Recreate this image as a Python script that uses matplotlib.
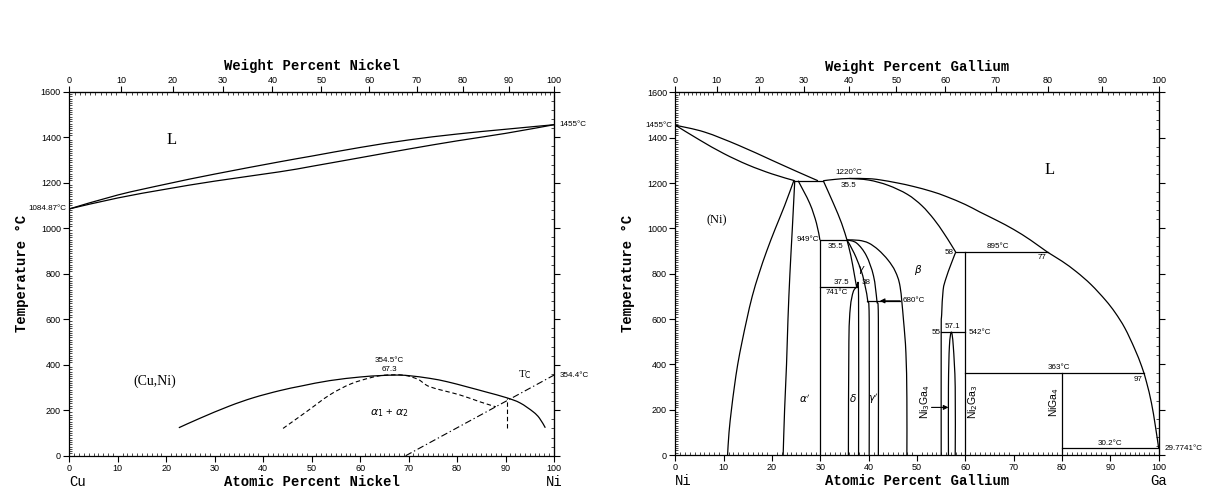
import numpy as np
import matplotlib
matplotlib.use("Agg")
import matplotlib.pyplot as plt
from matplotlib.ticker import MultipleLocator
from matplotlib.transforms import blended_transform_factory
from matplotlib.path import Path
from matplotlib.patches import PathPatch

# ---------------- Cu-Ni system ----------------
M_CU, M_NI, M_GA = 63.546, 58.693, 69.723

cuni_liq_x = [0, 10, 20, 30, 43.4, 50, 60, 70, 80, 90, 100]
cuni_liq_t = [1084.87, 1146, 1194, 1238, 1292, 1317, 1355, 1388, 1414, 1435, 1455]
cuni_sol_x = [0, 10, 20, 30, 43.4, 50, 60, 70, 80, 90, 100]
cuni_sol_t = [1084.87, 1133, 1172, 1207, 1248, 1272, 1310, 1348, 1384, 1417, 1455]

cuni_gap_x = [22.6, 27, 33, 38, 43.4, 48, 53.7, 60, 64, 67.3, 70, 74.4, 78, 82, 86, 90.2, 93, 95.7, 97, 98.2]
cuni_gap_t = [123, 165, 218, 255, 286, 307, 330, 346, 352, 354.5, 352, 340, 325, 303, 280, 255, 232, 193, 165, 123]

cuni_spin_x = [44.1, 48.9, 53.7, 58, 62, 65, 69, 72, 74.4, 80.6, 84.7, 88]
cuni_spin_t = [120, 193, 267, 315, 342, 354, 354, 335, 303, 267, 237, 215]
cuni_spin_v_x = [90.2, 90.2]
cuni_spin_v_t = [123, 252]

cuni_tc_x = [69.4, 100]
cuni_tc_t = [0, 354.4]

# ---------------- Ni-Ga system ----------------
niga_liq1_x = [0, 6, 13, 20, 25, 29.5]
niga_liq1_t = [1455, 1425, 1367, 1300, 1252, 1210]
niga_sol1_x = [0, 5, 10, 15, 20, 24.7]
niga_sol1_t = [1455, 1390, 1330, 1280, 1240, 1210]
niga_peri_x = [24.7, 30.6]
niga_peri_t = [1210, 1210]

niga_nisolvus_x = [24.5, 22.6, 20.7, 18.9, 17.3, 15.9, 14.8, 13.8, 12.9, 12.2, 11.6, 11.1, 10.8]
niga_nisolvus_t = [1210, 1100, 1000, 900, 800, 700, 600, 500, 400, 300, 200, 100, 0]

niga_a1_left_x = [24.7, 24.2, 23.7, 23.3, 23.0, 22.6, 22.3]
niga_a1_left_t = [1210, 1000, 800, 600, 400, 200, 0]
niga_a1_right_x = [25.4, 27.8, 29.2, 29.9]
niga_a1_right_t = [1210, 1110, 1022, 949]

niga_beta_liq_x = [30.6, 33, 36, 40, 42.3, 46, 49.2, 53, 56.1, 60, 63, 66.5, 70, 73.5, 77,
                   80, 83, 86, 89, 91, 93, 95, 96.5, 97.5, 98.5, 99.3, 100]
niga_beta_liq_t = [1210, 1216, 1220, 1219, 1214, 1200, 1185, 1163, 1140, 1105, 1072, 1035, 995, 948, 895,
                   855, 808, 752, 683, 628, 560, 470, 390, 320, 230, 130, 29.77]
niga_beta_sol_x = [36, 40, 44, 48, 51, 53.5, 55.5, 57, 58]
niga_beta_sol_t = [1220, 1213, 1190, 1150, 1100, 1040, 980, 930, 895]
niga_beta_high_x = [30.6, 32.7, 34.4, 35.5]
niga_beta_high_t = [1210, 1110, 1022, 949]

niga_a_x = [35.5, 36.3, 37.0, 37.5, 37.9, 37.9]
niga_a_t = [949, 880, 800, 741, 700, 0]
niga_delta_x = [37.5, 36.8, 36.2, 35.9, 35.8]
niga_delta_t = [741, 720, 650, 500, 0]
niga_b_x = [35.5, 37, 38.5, 39.3, 39.8, 40.1, 40.1]
niga_b_t = [949, 890, 810, 741, 680, 600, 0]
niga_c_x = [35.5, 37.5, 39.5, 41, 41.7, 42, 42]
niga_c_t = [949, 935, 880, 790, 680, 600, 0]
niga_d_x = [35.5, 38, 40, 42, 44, 45.5, 46.5, 47.2, 47.7, 47.9, 47.9]
niga_d_t = [949, 947, 935, 905, 860, 810, 742, 595, 450, 250, 0]

niga_beta_right_x = [58, 57, 56, 55.4, 55.1, 55, 55]
niga_beta_right_t = [895, 840, 780, 728, 620, 542, 0]
niga_ni3ga4_x = [56.5, 56.5, 56.7, 57.1, 57.5, 57.9, 57.9]
niga_ni3ga4_t = [0, 300, 480, 542, 480, 300, 0]

# isotherms: (x_start, x_end, temperature)
niga_isotherms = [(30, 35.5, 949), (30, 37.5, 741), (39.6, 46.5, 680),
                  (58, 77, 895), (55, 60, 542), (60, 96.9, 363), (80, 100, 30.2)]
# vertical lines: (x, t_bottom, t_top)
niga_verticals = [(30, 0, 949), (60, 0, 895), (80, 0, 363)]

LW = 0.9
SANS = "Liberation Sans"
SERIF = "Liberation Serif"
MONO = "Liberation Mono"
plt.rcParams["font.family"] = SANS

fig = plt.figure(figsize=(12.11, 5.04), dpi=100)
ax1 = fig.add_axes([0.0572, 0.0958, 0.4003, 0.7222])
ax2 = fig.add_axes([0.5577, 0.0972, 0.3991, 0.7196])


def at_to_wt(m_solute, m_solvent):
    def f(a):
        a = np.asarray(a, dtype=float)
        with np.errstate(all="ignore"):
            return 100 * a * m_solute / (a * m_solute + (100 - a) * m_solvent)
    return f


def wt_to_at(m_solute, m_solvent):
    def f(w):
        w = np.asarray(w, dtype=float)
        with np.errstate(all="ignore"):
            return 100 * (w / m_solute) / (w / m_solute + (100 - w) / m_solvent)
    return f


def curve(ax, xs, ts, lw=LW, ls="-"):
    """Smooth curve through the given points drawn as cubic Bezier segments."""
    k = 21.3  # degrees per at.% giving equal screen lengths, keeps tangents isotropic
    P = np.column_stack([np.asarray(xs, float), np.asarray(ts, float) / k])
    n = len(P)
    verts = [P[0]]
    codes = [Path.MOVETO]
    for i in range(n - 1):
        p0 = P[i - 1] if i > 0 else P[i]
        p1, p2 = P[i], P[i + 1]
        p3 = P[i + 2] if i + 2 < n else P[i + 1]
        verts += [p1 + (p2 - p0) / 6.0, p2 - (p3 - p1) / 6.0, p2]
        codes += [Path.CURVE4] * 3
    V = np.array(verts)
    V[:, 1] *= k
    ax.add_patch(PathPatch(Path(V, codes), fill=False, edgecolor="k",
                           lw=lw, linestyle=ls, capstyle="butt"))


def frame(ax, m_solute, m_solvent, top_label, bottom_label, left_el, right_el):
    ax.set_xlim(0, 100)
    ax.set_ylim(0, 1600)
    ax.set_xticks(range(0, 101, 10))
    ax.set_yticks(range(0, 1601, 200))
    ax.xaxis.set_minor_locator(MultipleLocator(1))
    ax.yaxis.set_minor_locator(MultipleLocator(10))
    ax.tick_params(which="major", direction="out", length=4, width=0.8,
                   labelsize=6.5, pad=2)
    ax.tick_params(which="minor", direction="in", length=2, width=0.5)
    for s in ax.spines.values():
        s.set_linewidth(0.9)
    ax.set_xlabel(bottom_label, fontfamily=MONO, fontweight="bold", fontsize=10)
    ax.xaxis.label.set_va("center")
    ax.xaxis.set_label_coords(0.5, -0.072)
    ax.set_ylabel("Temperature °C", fontfamily=MONO, fontweight="bold", fontsize=10)
    ax.yaxis.label.set_va("center")
    ax.yaxis.set_label_coords(-0.098, 0.5)

    top = ax.secondary_xaxis("top", functions=(at_to_wt(m_solute, m_solvent),
                                                wt_to_at(m_solute, m_solvent)))
    top.set_xticks(range(0, 101, 10))
    top.xaxis.set_minor_locator(MultipleLocator(1))
    top.tick_params(which="major", direction="out", length=4, width=0.8,
                    labelsize=6.5, pad=1)
    top.tick_params(which="minor", direction="in", length=2, width=0.5)
    ax.text(0.5, 1.071, top_label, transform=ax.transAxes, fontfamily=MONO,
            fontweight="bold", fontsize=10, ha="center", va="center")

    right = ax.secondary_yaxis("right")
    right.set_yticks(range(0, 1601, 200))
    right.set_yticklabels([])
    right.yaxis.set_minor_locator(MultipleLocator(40))
    right.tick_params(which="major", direction="out", length=4, width=0.8)
    right.tick_params(which="minor", direction="in", length=2, width=0.5)

    tr = blended_transform_factory(ax.transData, ax.transAxes)
    ax.text(0, -0.072, left_el, transform=tr, fontfamily=MONO, fontsize=10,
            ha="left", va="center")
    ax.text(100, -0.072, right_el, transform=tr, fontfamily=MONO, fontsize=10,
            ha="center", va="center")


def note(ax, x, y, s, ha="center", va="center", size=5.8, **kw):
    ax.text(x, y, s, ha=ha, va=va, fontsize=size, clip_on=False, **kw)


DASH = (0, (4, 2.5))
DASHDOT = (0, (6, 2.5, 1.2, 2.5))

# ----- left panel: Cu-Ni -----
frame(ax1, M_NI, M_CU, "Weight Percent Nickel", "Atomic Percent Nickel", "Cu", "Ni")
curve(ax1, cuni_liq_x, cuni_liq_t)
curve(ax1, cuni_sol_x, cuni_sol_t)
curve(ax1, cuni_gap_x, cuni_gap_t)
curve(ax1, cuni_spin_x, cuni_spin_t, lw=0.8, ls=DASH)
ax1.plot(cuni_spin_v_x, cuni_spin_v_t, color="k", lw=0.8, ls=DASH)
ax1.plot(cuni_tc_x, cuni_tc_t, color="k", lw=0.8, ls=DASHDOT)

note(ax1, -0.6, cuni_liq_t[0], "1084.87°C", ha="right")
note(ax1, 101.2, cuni_liq_t[-1], "1455°C", ha="left")
note(ax1, 101.2, cuni_tc_t[-1], "354.4°C", ha="left")
note(ax1, 66.1, 420, "354.5°C")
note(ax1, 66.1, 381, "67.3")
ax1.text(21.2, 1388, "L", fontfamily=SERIF, fontsize=12, ha="center", va="center")
ax1.text(17.7, 328, "(Cu,Ni)", fontfamily=SERIF, fontsize=10, ha="center", va="center")
ax1.text(66.1, 186, r"$\alpha_1$ + $\alpha_2$", fontsize=8, ha="center", va="center")
ax1.text(94, 355, r"T$_\mathrm{C}$", fontfamily=SERIF, fontsize=8, ha="center", va="center")

# ----- right panel: Ni-Ga -----
frame(ax2, M_GA, M_NI, "Weight Percent Gallium", "Atomic Percent Gallium", "Ni", "Ga")
for xs, ts in [(niga_liq1_x, niga_liq1_t), (niga_sol1_x, niga_sol1_t),
               (niga_nisolvus_x, niga_nisolvus_t),
               (niga_a1_left_x, niga_a1_left_t), (niga_a1_right_x, niga_a1_right_t),
               (niga_beta_liq_x, niga_beta_liq_t), (niga_beta_sol_x, niga_beta_sol_t),
               (niga_beta_high_x, niga_beta_high_t), (niga_a_x, niga_a_t),
               (niga_delta_x, niga_delta_t), (niga_b_x, niga_b_t),
               (niga_c_x, niga_c_t), (niga_d_x, niga_d_t),
               (niga_beta_right_x, niga_beta_right_t), (niga_ni3ga4_x, niga_ni3ga4_t)]:
    curve(ax2, xs, ts)
ax2.plot(niga_peri_x, niga_peri_t, color="k", lw=LW)
for x0, x1, t in niga_isotherms:
    ax2.plot([x0, x1], [t, t], color="k", lw=LW)
for x, t0, t1 in niga_verticals:
    ax2.plot([x, x], [t0, t1], color="k", lw=LW)

arrow = dict(arrowstyle="-|>", color="k", lw=0.8, mutation_scale=7, shrinkA=0, shrinkB=0)
ax2.annotate("", xy=(42.3, 680), xytext=(46.5, 680), arrowprops=arrow)
ax2.annotate("", xy=(56.5, 210), xytext=(53.0, 210), arrowprops=arrow)

note(ax2, -0.6, 1455, "1455°C", ha="right")
note(ax2, 101.2, 29.77, "29.7741°C", ha="left")
note(ax2, 35.8, 1245, "1220°C")
note(ax2, 35.8, 1187, "35.5")
note(ax2, 29.7, 949, "949°C", ha="right")
note(ax2, 33.2, 922, "35.5")
note(ax2, 34.4, 762, "37.5")
note(ax2, 39.4, 760, "38")
note(ax2, 33.5, 718, "741°C")
note(ax2, 47.0, 680, "680°C", ha="left")
note(ax2, 57.6, 895, "58", ha="right")
note(ax2, 66.8, 918, "895°C")
note(ax2, 75.8, 872, "77")
note(ax2, 54.8, 542, "55", ha="right")
note(ax2, 57.3, 565, "57.1")
note(ax2, 60.6, 542, "542°C", ha="left")
note(ax2, 79.4, 385, "363°C")
note(ax2, 95.8, 334, "97")
note(ax2, 89.9, 52, "30.2°C")

ax2.text(77.5, 1257, "L", fontfamily=SERIF, fontsize=12, ha="center", va="center")
ax2.text(8.6, 1037, "(Ni)", fontfamily=SERIF, fontsize=9, ha="center", va="center")
ax2.text(50.3, 816, r"$\beta$", fontsize=7.5, ha="center", va="center")
ax2.text(38.5, 816, r"$\gamma$", fontsize=7.5, ha="center", va="center")
ax2.text(26.7, 250, r"$\alpha'$", fontsize=7.5, ha="center", va="center")
ax2.text(36.8, 250, r"$\delta$", fontsize=7.5, ha="center", va="center")
ax2.text(41.0, 250, r"$\gamma'$", fontsize=7.5, ha="center", va="center")
ax2.text(51.7, 235, r"Ni$_3$Ga$_4$", fontsize=7.5, rotation=90, ha="center", va="center")
ax2.text(61.7, 235, r"Ni$_2$Ga$_3$", fontsize=7.5, rotation=90, ha="center", va="center")
ax2.text(78.3, 235, r"NiGa$_4$", fontsize=7.5, rotation=90, ha="center", va="center")

fig.savefig("out.png", dpi=100, facecolor="white")
